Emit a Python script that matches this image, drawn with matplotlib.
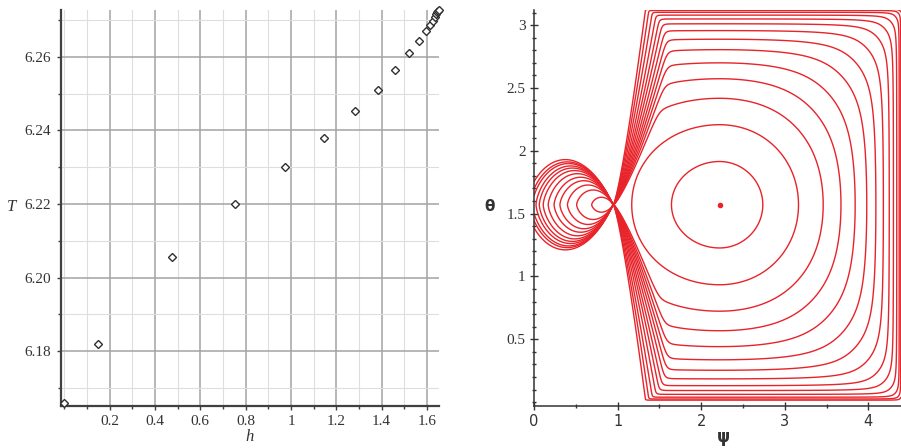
import numpy as np
import matplotlib
matplotlib.use("Agg")
import matplotlib.pyplot as plt
from matplotlib.ticker import MultipleLocator, FixedLocator

SERIF = ["Liberation Serif", "DejaVu Serif"]
SANS = ["DejaVu Sans"]

# period T of the orbit against the energy h
h = [0.0, 0.148, 0.477, 0.755, 0.974, 1.145, 1.281, 1.384, 1.460, 1.521,
     1.566, 1.597, 1.613, 1.625, 1.634, 1.641, 1.646, 1.650, 1.653]
T = [6.1660, 6.1820, 6.2057, 6.2200, 6.2300, 6.2380, 6.2452, 6.2510, 6.2563, 6.2609,
     6.2643, 6.2670, 6.2685, 6.2697, 6.2708, 6.2715, 6.2721, 6.2724, 6.2727]
h_ticks = [0.2, 0.4, 0.6, 0.8, 1.0, 1.2, 1.4, 1.6]
T_ticks = [6.18, 6.20, 6.22, 6.24, 6.26]

# phase plane (psi, theta)
psi_centre = 2.22      # elliptic point of the big cell
psi_saddle = 0.95      # point where the separatrices meet
width_left, width_right = 2.45, 2.2
k_theta = 1.08
round_c, round_eps = 1.5, 0.5
fan_a, fan_b = -3.18, 8.84
orbit_levels = [-1.9, -0.45, 0.4, 1.05, 1.65, 2.25, 2.85, 3.5, 4.2, 4.9, 5.7, 6.6, 7.5, 8.4]
lobe_reach = [0.69, 0.51, 0.40, 0.31, 0.24, 0.17, 0.11, 0.063, 0.024, -0.02, -0.05, -0.09]
lobe_a, lobe_p, lobe_k = 1.1, 1.3, 90 / 70
psi_ticks = [0, 1, 2, 3, 4]
theta_ticks = [0.5, 1, 1.5, 2, 2.5, 3]

fig = plt.figure(figsize=(9.01, 4.48), dpi=100)

# ---- left: T(h)
ax1 = fig.add_axes([0.0677, 0.0944, 0.4195, 0.8833])
ax1.plot(h, T, "D", ms=3.8, mfc="white", mec="#303030", mew=1.0, clip_on=False, zorder=3)
ax1.set_xlim(-0.015, 1.653)
ax1.set_ylim(6.1652, 6.2727)
ax1.xaxis.set_major_locator(FixedLocator(h_ticks))
ax1.xaxis.set_minor_locator(MultipleLocator(0.1))
ax1.yaxis.set_major_locator(FixedLocator(T_ticks))
ax1.yaxis.set_minor_locator(MultipleLocator(0.01))
ax1.set_xticklabels(["%g" % v for v in h_ticks], family=SERIF, fontsize=11, color="#333333")
ax1.set_yticklabels(["%.2f" % v for v in T_ticks], family=SERIF, fontsize=11, color="#333333")
ax1.grid(which="major", color="#a3a3a3", lw=1.1)
ax1.grid(which="minor", color="#dedede", lw=0.8)
ax1.set_axisbelow(True)
for s in ("top", "right"):
    ax1.spines[s].set_visible(False)
for s in ("left", "bottom"):
    ax1.spines[s].set_color("#404040")
    ax1.spines[s].set_linewidth(1.6)
ax1.tick_params(which="major", length=3, width=1, color="#404040", pad=4)
ax1.tick_params(which="minor", length=2, width=1, color="#404040")
fig.text(12 / 901, 1 - 207 / 448, "T", family=SERIF, style="italic", fontsize=12,
         ha="center", va="center", color="#333333")
fig.text(250 / 901, 1 - 437 / 448, "h", family=SERIF, style="italic", fontsize=12,
         ha="center", va="center", color="#333333")

# ---- right: level curves in the (psi, theta) plane
ax2 = fig.add_axes([0.5927, 0.0944, 0.4073, 0.8833])
psi = np.linspace(0.0, 4.39, 1500)
theta = np.linspace(1e-4, np.pi - 1e-4, 1100)
P, Q = np.meshgrid(psi, theta)

# closed orbits around the centre, cut by the fan of separatrices through the saddle
half = np.where(P < psi_centre, width_left, width_right)
u = np.clip(np.abs(P - psi_centre) / half, 0, 0.9995)
U2 = np.tan(np.pi / 2 * u) ** 2
V2 = (k_theta * np.tan(Q - np.pi / 2)) ** 2
Hs = np.log(U2 + V2 + round_c * U2 * V2 / (1 + round_eps * (U2 + V2)) + 1e-12)
d = np.abs(Q - np.pi / 2)
tau = np.clip((P - psi_saddle) / (d ** 0.8 + 1e-9), 1e-6, None)
Hf = fan_a - fan_b * np.log(tau)
H = np.logaddexp(3 * Hs, 3 * Hf) / 3

# small lobes left of the saddle
x = psi_saddle - P
y = Q - np.pi / 2
Y = np.sign(y) * (np.abs(y) / lobe_a) ** (1 / lobe_p)
R = np.hypot(x, Y)
phi = np.arctan2(Y, x)
g = np.cos(np.clip(lobe_k * phi, -np.pi / 2, np.pi / 2))
F = np.where(x > 0, g / np.maximum(R, 1e-9), np.nan)
lobe_levels = sorted(1 / (psi_saddle - r) for r in lobe_reach)

red = "#e8232a"
ax2.contour(P, Q, H, levels=orbit_levels, colors=red, linewidths=1.0, linestyles="solid")
ax2.contour(P, Q, F, levels=lobe_levels, colors=red, linewidths=1.0, linestyles="solid")
ax2.plot([psi_centre], [np.pi / 2], "o", ms=3, color=red)

ax2.set_xlim(0, 4.39)
ax2.set_ylim(-0.028, 3.12)
ax2.xaxis.set_major_locator(FixedLocator(psi_ticks))
ax2.xaxis.set_minor_locator(MultipleLocator(0.5))
ax2.yaxis.set_major_locator(FixedLocator(theta_ticks))
ax2.yaxis.set_minor_locator(MultipleLocator(0.1))
ax2.set_xticklabels(["%g" % v for v in psi_ticks], family=SANS, fontsize=10.5, color="#333333")
ax2.set_yticklabels(["%g" % v for v in theta_ticks], family=SERIF, fontsize=11, color="#333333")
for s in ("top", "right"):
    ax2.spines[s].set_visible(False)
for s in ("left", "bottom"):
    ax2.spines[s].set_color("#333333")
    ax2.spines[s].set_linewidth(1.1)
ax2.tick_params(which="major", direction="inout", length=6, width=1, color="#333333", pad=3)
ax2.tick_params(which="minor", direction="inout", length=3, width=1, color="#333333")
fig.text(490 / 901, 1 - 206 / 448, "θ", family=SANS, fontweight="bold", fontsize=11,
         ha="center", va="center", color="#333333")
fig.text(723 / 901, 1 - 437 / 448, "ψ", family=SANS, fontweight="bold", fontsize=12,
         ha="center", va="center", color="#333333")

fig.savefig("out.png", dpi=100)
